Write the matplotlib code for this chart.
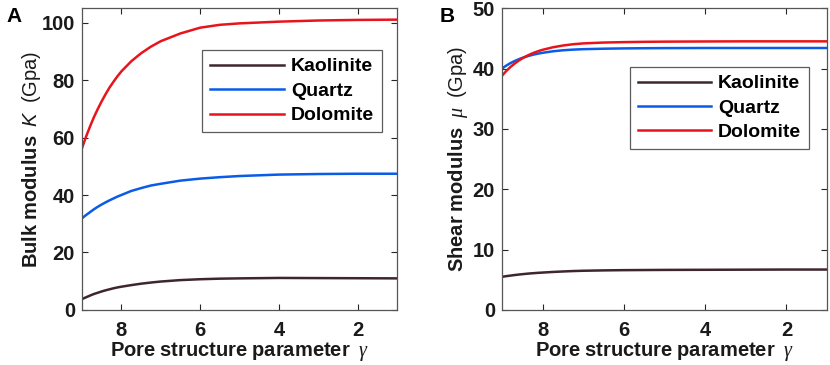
import matplotlib.pyplot as plt

plt.switch_backend('Agg')

plt.rcParams['font.family'] = ['Liberation Sans', 'DejaVu Sans']
plt.rcParams['mathtext.fontset'] = 'custom'
plt.rcParams['mathtext.rm'] = 'Liberation Sans'
plt.rcParams['mathtext.bf'] = 'Liberation Sans:bold'
plt.rcParams['mathtext.sf'] = 'Liberation Sans:italic'
plt.rcParams['mathtext.it'] = 'Liberation Serif:italic'

# pore structure parameter gamma
gamma = [9.0, 8.9, 8.8, 8.7, 8.6, 8.5, 8.4, 8.3, 8.2, 8.1, 8.0, 7.75, 7.5, 7.25, 7.0,
         6.5, 6.0, 5.5, 5.0, 4.0, 3.0, 2.0, 1.0]

# panel A: bulk modulus (GPa)
k_kaolinite = [3.8, 4.4, 5.0, 5.55, 6.0, 6.45, 6.85, 7.2, 7.55, 7.85, 8.1, 8.65, 9.15, 9.55, 9.9,
               10.4, 10.7, 10.9, 11.0, 11.15, 11.1, 11.05, 11.0]
k_quartz = [31.9, 33.0, 34.0, 35.0, 35.9, 36.7, 37.45, 38.15, 38.8, 39.45, 40.0, 41.4, 42.4, 43.3, 43.9,
            45.0, 45.7, 46.2, 46.6, 47.1, 47.3, 47.4, 47.4]
k_dolomite = [56.3, 60.2, 63.7, 67.0, 69.9, 72.6, 75.1, 77.4, 79.4, 81.3, 83.0, 86.5, 89.3, 91.6, 93.5,
              96.2, 98.2, 99.2, 99.7, 100.3, 100.7, 100.9, 101.0]

# panel B: shear modulus (GPa)
mu_kaolinite = [5.5, 5.6, 5.69, 5.78, 5.86, 5.93, 6.0, 6.06, 6.11, 6.16, 6.2, 6.3, 6.38, 6.45, 6.5,
                6.56, 6.6, 6.62, 6.64, 6.66, 6.68, 6.7, 6.7]
mu_quartz = [40.0, 40.46, 40.86, 41.2, 41.5, 41.76, 41.98, 42.17, 42.34, 42.48, 42.6, 42.85, 43.02, 43.13, 43.2,
             43.28, 43.33, 43.36, 43.38, 43.4, 43.4, 43.4, 43.4]
mu_dolomite = [38.8, 39.55, 40.2, 40.76, 41.25, 41.68, 42.05, 42.37, 42.65, 42.89, 43.1, 43.51, 43.81, 44.02, 44.16,
               44.3, 44.37, 44.42, 44.45, 44.48, 44.5, 44.5, 44.5]

names = ['Kaolinite', 'Quartz', 'Dolomite']
colors = ['#3f262c', '#0a5be8', '#e8141c']

fig = plt.figure(figsize=(8.3, 3.65), dpi=100)
ax1 = fig.add_axes([0.0988, 0.1507, 0.3795, 0.827])
ax2 = fig.add_axes([0.6048, 0.1507, 0.3916, 0.827])


def style(ax, ylim, yticks, ylabel, leg_anchor, ypad):
    ax.set_xlim(9, 1)
    ax.set_ylim(*ylim)
    ax.set_xticks([8, 6, 4, 2])
    ax.set_yticks(yticks)
    ax.tick_params(direction='in', top=True, right=True, length=4, width=0.8,
                   labelsize=14.5, colors='#262626')
    ax.tick_params(axis='x', pad=8)
    ax.tick_params(axis='y', pad=5)
    for lab in ax.get_xticklabels() + ax.get_yticklabels():
        lab.set_fontweight('bold')
        lab.set_color('#1a1a1a')
    for sp in ax.spines.values():
        sp.set_color('#555555')
        sp.set_linewidth(0.9)
    ax.set_xlabel(r'$\mathbf{Pore\ structure\ parameter}\ \ \gamma$', fontsize=14.5, labelpad=0, color='#1a1a1a')
    ax.set_ylabel(ylabel, fontsize=14.5, labelpad=ypad, color='#1a1a1a')
    leg = ax.legend(loc='upper right', bbox_to_anchor=leg_anchor, borderaxespad=0,
                    fancybox=False, handlelength=3.8, handletextpad=0.35,
                    labelspacing=0.35, borderpad=0.4, prop={'weight': 'bold', 'size': 14})
    leg.get_frame().set_edgecolor('#333333')
    leg.get_frame().set_linewidth(0.9)


for vals, name, c in zip([k_kaolinite, k_quartz, k_dolomite], names, colors):
    ax1.plot(gamma, vals, color=c, lw=1.8, label=name)
for vals, name, c in zip([mu_kaolinite, mu_quartz, mu_dolomite], names, colors):
    ax2.plot(gamma, vals, color=c, lw=1.8, label=name)

style(ax1, (0, 105), [0, 20, 40, 60, 80, 100],
      r'$\mathbf{Bulk\ modulus}\ \ \mathsf{K}\ \ \mathrm{(Gpa)}$', (0.952, 0.861), -1)
style(ax2, (0, 50), [0, 10, 20, 30, 40, 50],
      r'$\mathbf{Shear\ modulus}\ \ \mu\ \ \mathrm{(Gpa)}$', (0.945, 0.805), 2)

fig.text(0.008, 0.955, 'A', fontsize=15, fontweight='bold', va='center')
fig.text(0.530, 0.955, 'B', fontsize=15, fontweight='bold', va='center')

fig.savefig('out.png', dpi=100)
